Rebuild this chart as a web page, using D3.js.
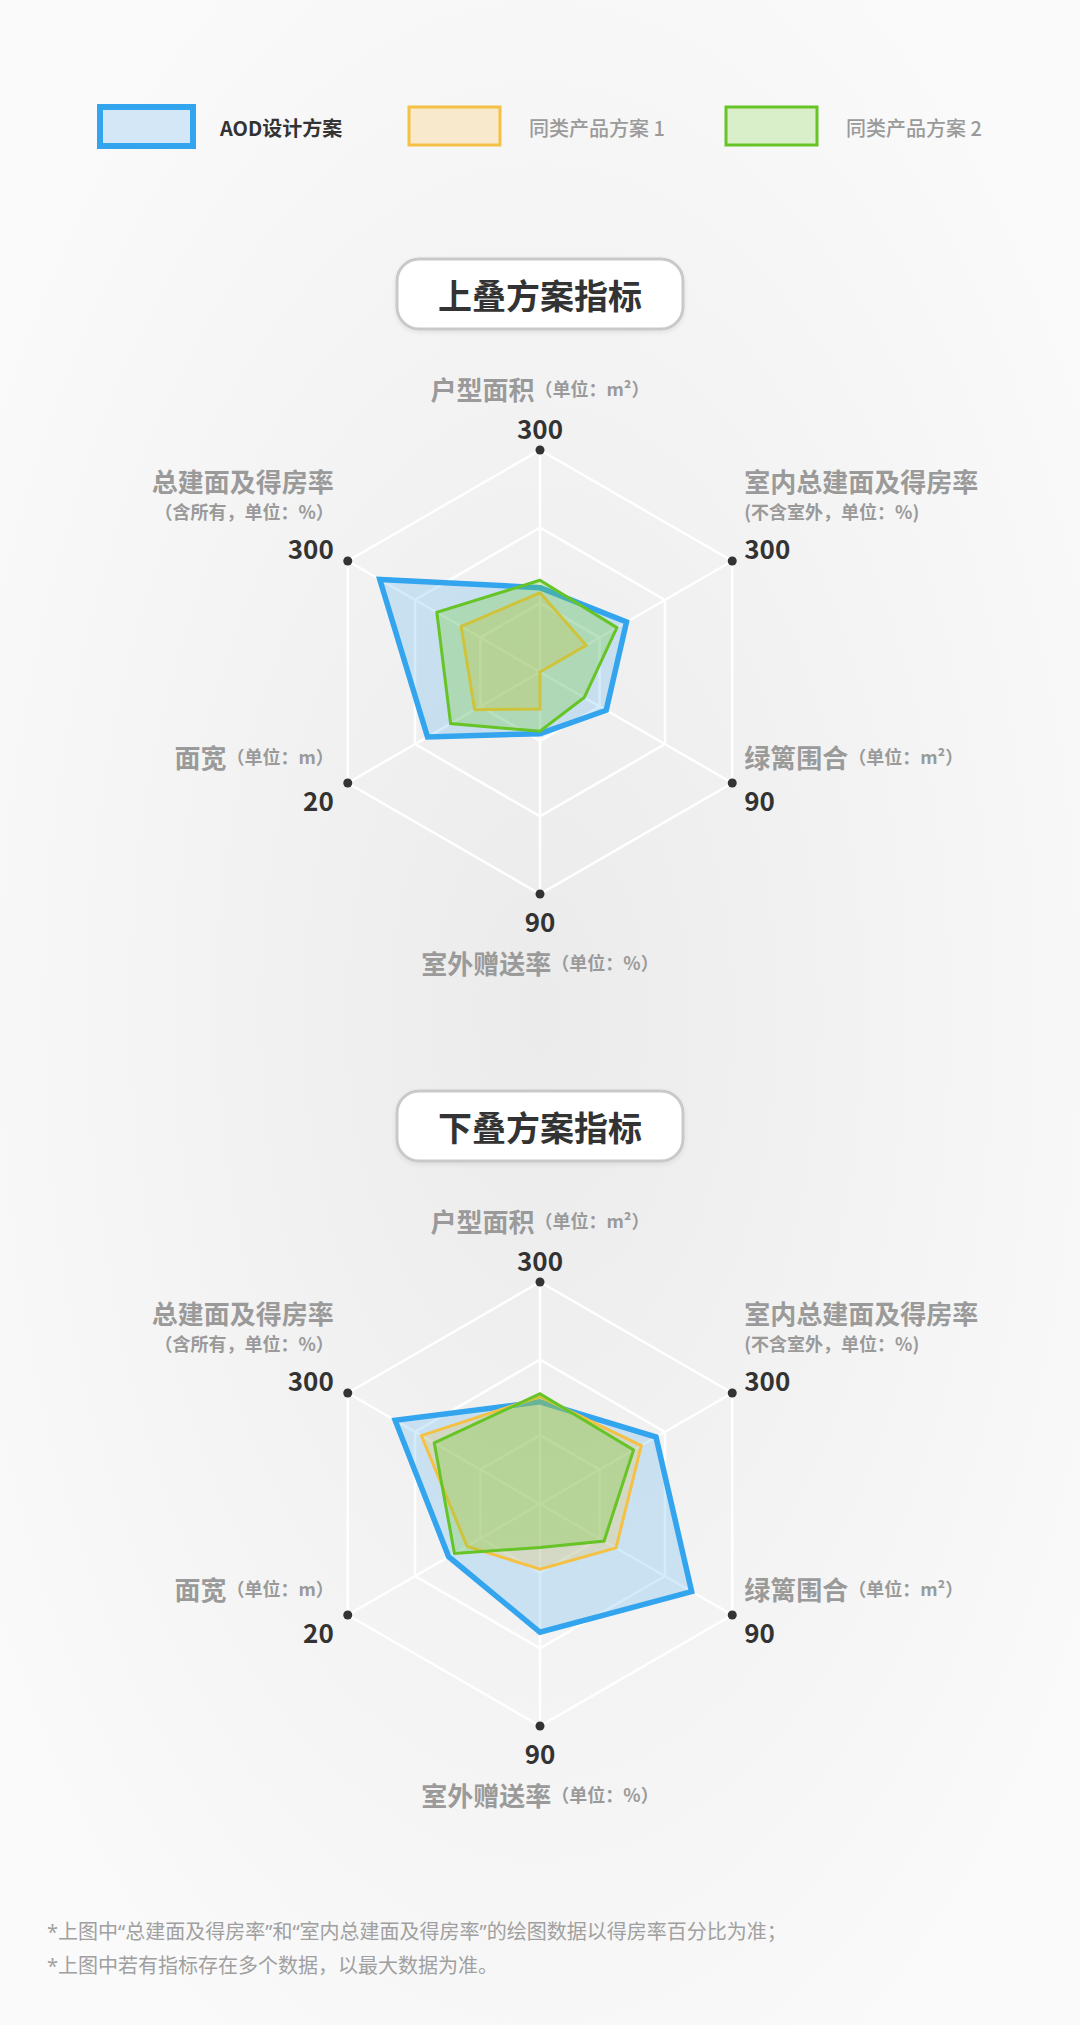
<!DOCTYPE html>
<html lang="zh">
<head>
<meta charset="UTF-8">
<title>上叠 / 下叠方案指标</title>
<script src="https://d3js.org/d3.v7.min.js"></script>
<style>
    body { margin: 0; background: #f2f2f2; }
    svg { display: block; font-family: "Noto Sans CJK SC", "Noto Sans", sans-serif; }
</style>
</head>
<body>
<div id="chart"></div>
<script>

// axes, clockwise from the top
const axisNames  = ["户型面积", "室内总建面及得房率", "绿篱围合", "室外赠送率", "面宽", "总建面及得房率"];
const axisUnits  = ["（单位：m²）", "(不含室外，单位：%)", "（单位：m²）", "（单位：%）", "（单位：m）", "（含所有，单位：%）"];
const axisMax    = [300, 300, 90, 90, 20, 300];
const ringLevels = [0.31, 0.65, 1];

const seriesNames = ["AOD设计方案", "同类产品方案 1", "同类产品方案 2"];

// 上叠方案
const upperAod   = [114, 135, 31, 25, 11.7, 250];
const upperSame1 = [107, 72, 0, 15, 6.8, 123];
const upperSame2 = [124, 120, 20.7, 24, 9.3, 161];

// 下叠方案
const lowerAod   = [138, 181, 71, 52, 9.5, 226];
const lowerSame1 = [145, 158, 35.6, 26.4, 7.6, 185];
const lowerSame2 = [149, 146, 30, 17.6, 8.9, 165];

const chartTitles = ["上叠方案指标", "下叠方案指标"];

const notes = [
    "*上图中“总建面及得房率”和“室内总建面及得房率”的绘图数据以得房率百分比为准；",
    "*上图中若有指标存在多个数据，以最大数据为准。"
];

const W = 1080, H = 2025;
const R = 222;
const strokes = ["#33a5ef", "#f4c144", "#66c426"];
const fills   = ["rgba(54,166,239,0.22)", "rgba(244,193,68,0.26)", "rgba(110,200,40,0.28)"];
const legendFills = ["#d3e7f7", "#f8e8cc", "#d9efca"];
const strokeW = [5.5, 3, 3];

const svg = d3.select("#chart").append("svg")
    .attr("width", W).attr("height", H)
    .attr("viewBox", [0, 0, W, H]);

const defs = svg.append("defs");
const bg = defs.append("radialGradient").attr("id", "bg")
    .attr("cx", "50%").attr("cy", "50%").attr("r", "60%");
bg.append("stop").attr("offset", "0%").attr("stop-color", "#ebebeb");
bg.append("stop").attr("offset", "100%").attr("stop-color", "#fafafa");
const sh = defs.append("filter").attr("id", "shadow").attr("x", "-10%").attr("y", "-20%").attr("width", "120%").attr("height", "150%");
sh.append("feDropShadow").attr("dx", 0).attr("dy", 2).attr("stdDeviation", 2).attr("flood-color", "#000").attr("flood-opacity", 0.08);

svg.append("rect").attr("width", W).attr("height", H).attr("fill", "url(#bg)");

// legend
const legendX = [100, 409, 726];
const legend = svg.append("g");
seriesNames.forEach((name, i) => {
    const g = legend.append("g").attr("transform", `translate(${legendX[i]},107)`);
    g.append("rect")
        .attr("width", i === 0 ? 93 : 91)
        .attr("height", i === 0 ? 39 : 38)
        .attr("fill", legendFills[i])
        .attr("stroke", strokes[i])
        .attr("stroke-width", i === 0 ? 6 : 3);
    g.append("text")
        .attr("x", 120)
        .attr("y", 20)
        .attr("dominant-baseline", "central")
        .attr("font-size", 20)
        .attr("font-weight", i === 0 ? 700 : 500)
        .attr("fill", i === 0 ? "#333" : "#9a9a9a")
        .text(name);
});

const angle = i => i * Math.PI / 3;
const scales = axisMax.map(m => d3.scaleLinear().domain([0, m]).range([0, R]));

function drawRadar(cy, title, series) {
    const cx = W / 2;

    // title box
    const tg = svg.append("g");
    tg.append("rect")
        .attr("x", cx - 143).attr("y", cy - 413)
        .attr("width", 286).attr("height", 70)
        .attr("rx", 22)
        .attr("fill", "#fff")
        .attr("stroke", "#c9c9c9")
        .attr("stroke-width", 3)
        .attr("filter", "url(#shadow)");
    tg.append("text")
        .attr("x", cx).attr("y", cy - 378)
        .attr("text-anchor", "middle")
        .attr("dominant-baseline", "central")
        .attr("font-size", 34)
        .attr("font-weight", 700)
        .attr("fill", "#333")
        .text(title);

    const g = svg.append("g").attr("transform", `translate(${cx},${cy})`);
    const pt = (i, r) => [r * Math.sin(angle(i)), -r * Math.cos(angle(i))];

    // rings
    const ring = d3.lineRadial()
        .angle((d, i) => angle(i))
        .radius(d => d)
        .curve(d3.curveLinearClosed);
    g.selectAll(".ring").data(ringLevels).join("path")
        .attr("d", l => ring(axisMax.map(() => l * R)))
        .attr("fill", "none")
        .attr("stroke", "#fff")
        .attr("stroke-width", 2.5);

    // spokes
    g.selectAll(".spoke").data(axisMax).join("line")
        .attr("x1", 0).attr("y1", 0)
        .attr("x2", (d, i) => pt(i, R)[0])
        .attr("y2", (d, i) => pt(i, R)[1])
        .attr("stroke", "#fff")
        .attr("stroke-width", 2.5);

    // series
    const line = d3.lineRadial()
        .angle((d, i) => angle(i))
        .radius((d, i) => scales[i](d))
        .curve(d3.curveLinearClosed);
    series.forEach((vals, s) => {
        g.append("path")
            .attr("d", line(vals))
            .attr("fill", fills[s])
            .attr("stroke", strokes[s])
            .attr("stroke-width", strokeW[s])
            .attr("stroke-linejoin", "miter");
    });

    // end dots
    g.selectAll(".dot").data(axisMax).join("circle")
        .attr("cx", (d, i) => pt(i, R)[0])
        .attr("cy", (d, i) => pt(i, R)[1])
        .attr("r", 4.5)
        .attr("fill", "#333");

    // labels
    axisNames.forEach((name, i) => {
        const [dx, dy] = pt(i, R);
        let anchor, tx, valY, nameY, unitY = null;
        if (i === 0) { anchor = "middle"; tx = 0; valY = dy - 23; nameY = dy - 62; }
        else if (i === 3) { anchor = "middle"; tx = 0; valY = dy + 26; nameY = dy + 68; }
        else if (i === 1 || i === 2) { anchor = "start"; tx = dx + 12; }
        else { anchor = "end"; tx = dx - 14; }
        if (i === 1 || i === 5) { valY = dy - 14; nameY = dy - 81; unitY = dy - 50; }
        if (i === 2 || i === 4) { valY = dy + 16; nameY = dy - 27; }

        g.append("text")
            .attr("x", tx).attr("y", valY)
            .attr("text-anchor", anchor)
            .attr("dominant-baseline", "central")
            .attr("font-size", 26)
            .attr("font-weight", 700)
            .attr("fill", "#333")
            .text(axisMax[i]);

        const t = g.append("text")
            .attr("x", tx).attr("y", nameY)
            .attr("text-anchor", anchor)
            .attr("dominant-baseline", "central")
            .attr("font-weight", 700)
            .attr("fill", "#9a9a9a");
        t.append("tspan").attr("font-size", 26).text(name);
        if (unitY === null) {
            t.append("tspan").attr("font-size", 18).text(axisUnits[i]);
        } else {
            g.append("text")
                .attr("x", tx).attr("y", unitY)
                .attr("text-anchor", anchor)
                .attr("dominant-baseline", "central")
                .attr("font-size", 18)
                .attr("font-weight", 700)
                .attr("fill", "#9a9a9a")
                .text(axisUnits[i]);
        }
    });
}

drawRadar(672, chartTitles[0], [upperAod, upperSame1, upperSame2]);
drawRadar(1504, chartTitles[1], [lowerAod, lowerSame1, lowerSame2]);

// footnotes
svg.selectAll(".note").data(notes).join("text")
    .attr("x", 47)
    .attr("y", (d, i) => 1931 + i * 34)
    .attr("dominant-baseline", "central")
    .attr("font-family", "'Noto Sans', 'Noto Sans CJK SC', sans-serif")
    .attr("font-size", 20)
    .attr("fill", "#a0a0a0")
    .text(d => d);

</script>
</body>
</html>
